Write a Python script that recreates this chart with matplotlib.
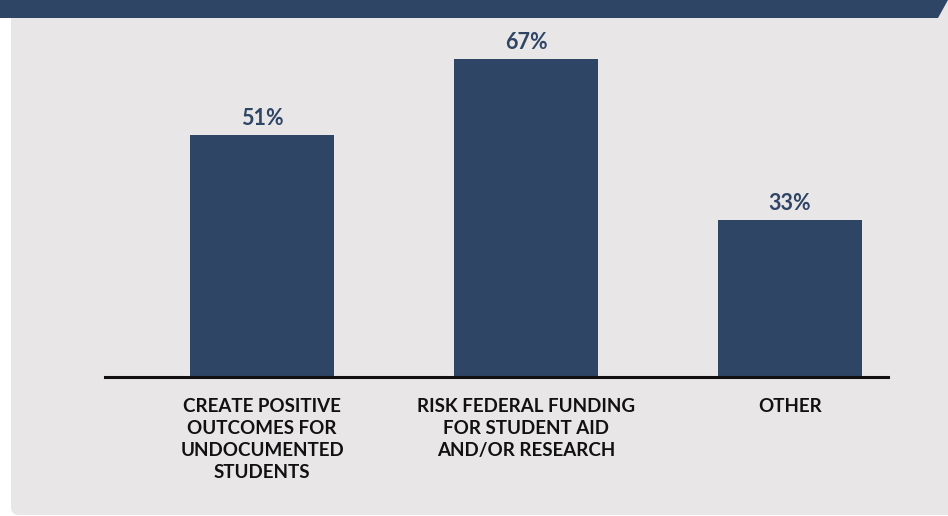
import matplotlib.pyplot as plt
from matplotlib.patches import FancyBboxPatch, Polygon

# chart data
categories = [
    "CREATE POSITIVE\nOUTCOMES FOR\nUNDOCUMENTED\nSTUDENTS",
    "RISK FEDERAL FUNDING\nFOR STUDENT AID\nAND/OR RESEARCH",
    "OTHER",
]
values = [51, 67, 33]

NAVY = "#2f4566"
PANEL = "#e8e6e7"

W, H = 948, 516
fig = plt.figure(figsize=(W / 100, H / 100), dpi=100)
fig.patch.set_facecolor("white")

# background panel with rounded bottom-left corner and header band
bg = fig.add_axes([0, 0, 1, 1])
bg.set_xlim(0, W)
bg.set_ylim(H, 0)
bg.axis("off")
bg.add_patch(FancyBboxPatch((11, 0), W + 20, 515,
                            boxstyle="round,pad=0,rounding_size=8",
                            facecolor=PANEL, edgecolor="none"))
bg.add_patch(Polygon([(0, 0), (948, 0), (938, 18), (0, 18)],
                     closed=True, facecolor=NAVY, edgecolor="none"))

# plotting area: baseline at y=377px, x from 105 to 888px
left, right, bottom, top = 105, 888, 377, 18
ax = fig.add_axes([left / W, 1 - bottom / H, (right - left) / W, (bottom - top) / H])
ax.patch.set_alpha(0)

x = range(len(values))
ax.bar(x, values, width=0.545, color=NAVY, zorder=2)
ax.set_xlim(-0.595, 2.371)
ax.set_ylim(0, 75.6)

for xi, v in zip(x, values):
    ax.text(xi, v + 1.3, f"{v}%", ha="center", va="bottom",
            fontsize=15.5, fontweight="bold", color=NAVY, family="Lato")

ax.set_xticks(list(x))
ax.set_xticklabels(categories, fontsize=13.5, fontweight="bold", family="Lato",
                   color="#111111", linespacing=1.36)
ax.tick_params(axis="x", length=0, pad=15)
ax.set_yticks([])

for s in ["top", "right", "left"]:
    ax.spines[s].set_visible(False)
ax.spines["bottom"].set_linewidth(2.2)
ax.spines["bottom"].set_color("#111111")

fig.savefig("out.png", dpi=100)
